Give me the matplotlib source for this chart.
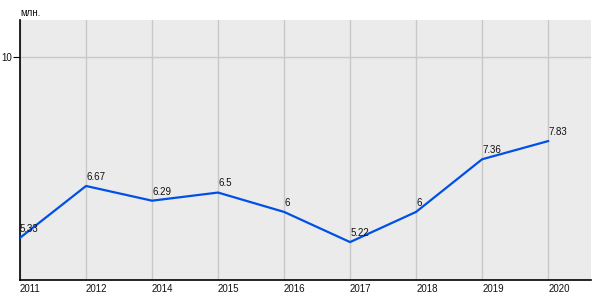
import matplotlib
matplotlib.use("Agg")
import matplotlib.pyplot as plt

years = ["2011", "2012", "2014", "2015", "2016", "2017", "2018", "2019", "2020"]
values = [5.33, 6.67, 6.29, 6.5, 6.0, 5.22, 6.0, 7.36, 7.83]
value_labels = ["5.33", "6.67", "6.29", "6.5", "6", "5.22", "6", "7.36", "7.83"]
y_ticks = [10]
y_unit = "млн."

plt.rcParams['font.family'] = ['Liberation Sans', 'DejaVu Sans']

fig = plt.figure(figsize=(6, 3), dpi=100)
ax = fig.add_axes([20/600, 20/300, 571/600, 260/300])
ax.set_facecolor('#ebebeb')

x = list(range(len(years)))
ax.plot(x, values, color='#0050e6', lw=1.6, zorder=3)
for xi, v, lab in zip(x, values, value_labels):
    ax.annotate(lab, (xi, v), xytext=(0, 3), textcoords='offset points',
                ha='left', va='bottom', fontsize=7, color='#111111', zorder=4)

ax.set_xlim(0, 8.65)
ax.set_ylim(4.24, 10.96)
ax.set_xticks(x)
ax.set_xticklabels(years, fontsize=7, ha='left', color='#111111')
ax.set_yticks(y_ticks)
ax.set_yticklabels([str(t) for t in y_ticks], fontsize=7, color='#111111')
ax.tick_params(axis='x', length=0, pad=3)
ax.tick_params(axis='y', length=5, width=0.8, pad=1)
ax.grid(True, color='#c8c8c8', lw=1)
ax.set_axisbelow(True)
for s in ['top', 'right']:
    ax.spines[s].set_visible(False)
for s in ['left', 'bottom']:
    ax.spines[s].set_color('black')
    ax.spines[s].set_linewidth(1.2)

fig.text(20/600, 1 - 13/300, y_unit, fontsize=7, ha='left', va='center', color='#111111')

fig.savefig('out.png', dpi=100)
